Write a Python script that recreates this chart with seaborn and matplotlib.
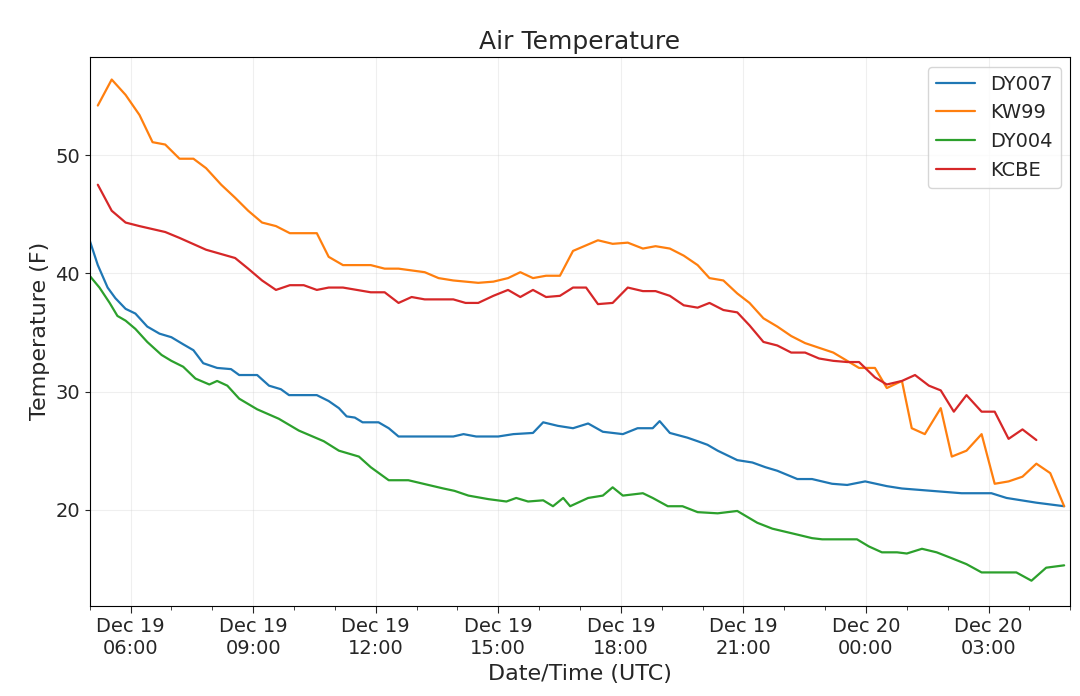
import seaborn as sns
import matplotlib
matplotlib.use('Agg')
import matplotlib.pyplot as plt
import matplotlib.dates as mdates
import pandas as pd

# (hours after Dec 19 05:00 UTC, temperature F)
stations = {
    'DY007': [(0, 42.8), (0.2, 40.7), (0.44, 38.8), (0.63, 37.9), (0.88, 37.0), (1.12, 36.6), (1.41, 35.5),
              (1.71, 34.9), (2.0, 34.6), (2.29, 34.0), (2.54, 33.5), (2.78, 32.4), (3.12, 32.0), (3.46, 31.9),
              (3.66, 31.4), (4.1, 31.4), (4.39, 30.5), (4.68, 30.2), (4.88, 29.7), (5.56, 29.7), (5.85, 29.2),
              (6.1, 28.6), (6.29, 27.9), (6.49, 27.8), (6.68, 27.4), (7.07, 27.4), (7.32, 26.9), (7.56, 26.2),
              (8.9, 26.2), (9.15, 26.4), (9.46, 26.2), (10.0, 26.2), (10.37, 26.4), (10.85, 26.5), (11.1, 27.4),
              (11.46, 27.1), (11.83, 26.9), (12.2, 27.3), (12.56, 26.6), (13.05, 26.4), (13.41, 26.9),
              (13.78, 26.9), (13.95, 27.5), (14.2, 26.5), (14.63, 26.1), (14.88, 25.8), (15.12, 25.5),
              (15.37, 25.0), (15.85, 24.2), (16.22, 24.0), (16.54, 23.6), (16.83, 23.3), (17.32, 22.6),
              (17.68, 22.6), (18.17, 22.2), (18.54, 22.1), (18.98, 22.4), (19.51, 22.0), (19.88, 21.8),
              (21.34, 21.4), (22.07, 21.4), (22.44, 21.0), (23.17, 20.6), (23.85, 20.3)],
    'KW99': [(0.2, 54.2), (0.54, 56.4), (0.88, 55.1), (1.22, 53.4), (1.54, 51.1), (1.85, 50.9), (2.2, 49.7),
             (2.54, 49.7), (2.85, 48.9), (3.22, 47.5), (3.56, 46.4), (3.88, 45.3), (4.22, 44.3), (4.56, 44.0),
             (4.9, 43.4), (5.56, 43.4), (5.85, 41.4), (6.2, 40.7), (6.88, 40.7), (7.22, 40.4), (7.56, 40.4),
             (8.2, 40.1), (8.54, 39.6), (8.9, 39.4), (9.51, 39.2), (9.88, 39.3), (10.24, 39.6), (10.54, 40.1),
             (10.85, 39.6), (11.17, 39.8), (11.51, 39.8), (11.83, 41.9), (12.44, 42.8), (12.8, 42.5),
             (13.17, 42.6), (13.54, 42.1), (13.85, 42.3), (14.2, 42.1), (14.54, 41.5), (14.88, 40.7),
             (15.17, 39.6), (15.51, 39.4), (15.85, 38.3), (16.15, 37.5), (16.49, 36.2), (16.83, 35.5),
             (17.17, 34.7), (17.51, 34.1), (18.2, 33.3), (18.54, 32.6), (18.83, 32.0), (19.22, 32.0),
             (19.51, 30.3), (19.88, 30.9), (20.12, 26.9), (20.44, 26.4), (20.83, 28.6), (21.1, 24.5),
             (21.46, 25.0), (21.83, 26.4), (22.15, 22.2), (22.49, 22.4), (22.83, 22.8), (23.17, 23.9),
             (23.51, 23.1), (23.85, 20.3)],
    'DY004': [(0, 39.8), (0.24, 38.8), (0.49, 37.5), (0.68, 36.4), (0.88, 36.0), (1.12, 35.3), (1.41, 34.2),
              (1.76, 33.1), (2.0, 32.6), (2.29, 32.1), (2.59, 31.1), (2.93, 30.6), (3.12, 30.9), (3.37, 30.5),
              (3.66, 29.4), (4.1, 28.5), (4.63, 27.7), (5.12, 26.7), (5.73, 25.8), (6.1, 25.0), (6.59, 24.5),
              (6.88, 23.6), (7.32, 22.5), (7.8, 22.5), (8.29, 22.1), (8.66, 21.8), (8.93, 21.6), (9.27, 21.2),
              (9.76, 20.9), (10.2, 20.7), (10.44, 21.0), (10.73, 20.7), (11.1, 20.8), (11.34, 20.3),
              (11.59, 21.0), (11.76, 20.3), (12.2, 21.0), (12.56, 21.2), (12.8, 21.9), (13.05, 21.2),
              (13.54, 21.4), (13.78, 21.0), (14.15, 20.3), (14.51, 20.3), (14.88, 19.8), (15.37, 19.7),
              (15.85, 19.9), (16.34, 18.9), (16.71, 18.4), (17.32, 17.9), (17.68, 17.6), (17.93, 17.5),
              (18.78, 17.5), (19.07, 16.9), (19.39, 16.4), (19.76, 16.4), (20.0, 16.3), (20.37, 16.7),
              (20.73, 16.4), (21.1, 15.9), (21.46, 15.4), (21.83, 14.7), (22.68, 14.7), (23.05, 14.0),
              (23.41, 15.1), (23.85, 15.3)],
    'KCBE': [(0.2, 47.5), (0.54, 45.3), (0.88, 44.3), (1.22, 44.0), (1.85, 43.5), (2.2, 43.0), (2.85, 42.0),
             (3.56, 41.3), (3.88, 40.4), (4.22, 39.4), (4.56, 38.6), (4.9, 39.0), (5.24, 39.0), (5.56, 38.6),
             (5.85, 38.8), (6.2, 38.8), (6.54, 38.6), (6.88, 38.4), (7.22, 38.4), (7.56, 37.5), (7.88, 38.0),
             (8.2, 37.8), (8.9, 37.8), (9.2, 37.5), (9.51, 37.5), (9.88, 38.1), (10.24, 38.6), (10.54, 38.0),
             (10.85, 38.6), (11.17, 38.0), (11.51, 38.1), (11.83, 38.8), (12.15, 38.8), (12.44, 37.4),
             (12.8, 37.5), (13.17, 38.8), (13.54, 38.5), (13.85, 38.5), (14.2, 38.1), (14.54, 37.3),
             (14.88, 37.1), (15.17, 37.5), (15.51, 36.9), (15.85, 36.7), (16.15, 35.6), (16.49, 34.2),
             (16.83, 33.9), (17.17, 33.3), (17.51, 33.3), (17.85, 32.8), (18.2, 32.6), (18.54, 32.5),
             (18.83, 32.5), (19.22, 31.2), (19.51, 30.6), (19.88, 30.9), (20.2, 31.4), (20.54, 30.5),
             (20.83, 30.1), (21.15, 28.3), (21.46, 29.7), (21.83, 28.3), (22.15, 28.3), (22.49, 26.0),
             (22.83, 26.8), (23.17, 25.9)],
}

start = pd.Timestamp('2019-12-19 05:00')
rows = []
for name, pts in stations.items():
    for h, t in pts:
        rows.append({'time': start + pd.Timedelta(hours=h), 'temp': t, 'station': name})
df = pd.DataFrame(rows)

sns.set_style('ticks')
fig, ax = plt.subplots(figsize=(10.8, 6.96), dpi=100)
sns.lineplot(data=df, x='time', y='temp', hue='station', palette='tab10', linewidth=1.6, ax=ax)

ax.set_xlim(start, start + pd.Timedelta(hours=24))
ax.set_ylim(11.9, 58.3)
ax.xaxis.set_major_locator(mdates.HourLocator(byhour=[0, 3, 6, 9, 12, 15, 18, 21]))
ax.xaxis.set_minor_locator(mdates.HourLocator())
ax.xaxis.set_major_formatter(mdates.DateFormatter('%b %d\n%H:%M'))
ax.tick_params(axis='both', labelsize=14, bottom=True, left=True)
ax.tick_params(axis='x', which='major', length=5)
ax.tick_params(axis='x', which='minor', length=3)
ax.grid(True, alpha=0.3)
for s in ax.spines.values():
    s.set_color('black')
    s.set_linewidth(0.8)

ax.set_title('Air Temperature', fontsize=18)
ax.set_xlabel('Date/Time (UTC)', fontsize=16)
ax.set_ylabel('Temperature (F)', fontsize=16)
ax.legend(loc='upper right', fontsize=14, title=None)

plt.subplots_adjust(left=0.083, right=0.991, top=0.918, bottom=0.13)
plt.savefig('out.png', dpi=100)
plt.close()
